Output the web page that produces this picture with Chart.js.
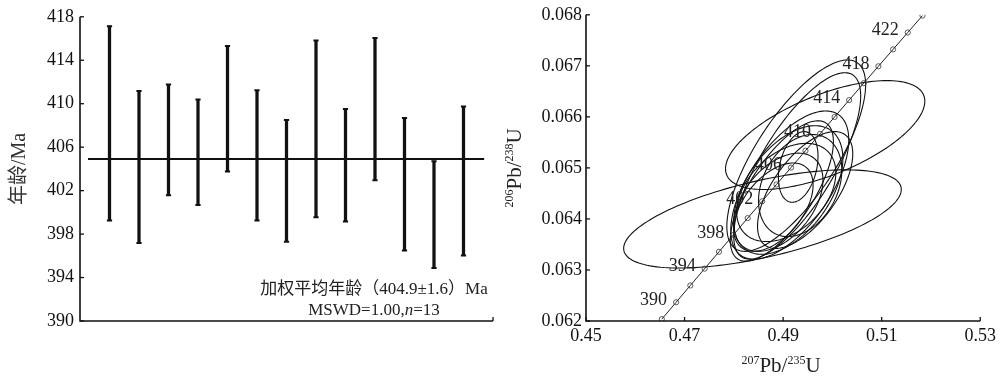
<!DOCTYPE html>
<html><head><meta charset="utf-8">
<script src="https://cdn.jsdelivr.net/npm/chart.js@4"></script>
<style>
html,body{margin:0;padding:0;background:#fff;}
#wrap{position:relative;width:1000px;height:377px;overflow:hidden;background:#fff;}
#c1{position:absolute;left:0;top:0;}
#c2{position:absolute;left:500px;top:0;}
</style></head><body>
<div id="wrap"><canvas id="c1" width="500" height="377"></canvas><canvas id="c2" width="500" height="377"></canvas></div>
<script>
// ---------- Left panel: weighted mean ages ----------
const spotNo  = [1,2,3,4,5,6,7,8,9,10,11,12,13];
const spotAge = [408.19,404.17,406.67,405.53,409.54,405.24,402.90,407.68,404.33,409.50,402.59,399.79,402.89];
const spotErr = [8.95,6.99,5.09,4.85,5.78,6.00,5.60,8.14,5.18,6.55,6.09,4.92,6.85];
const meanAge = 404.9;
const meanErr = 1.6;
const mswdText = "1.00";
const nSpots = 13;
const ageTicks = [390,394,398,402,406,410,414,418];

// ---------- Right panel: concordia ----------
const concAge = [388,390,392,394,396,398,400,402,404,406,408,410,412,414,416,418,420,422,424];
const concX = [0.46539,0.46828,0.47117,0.47408,0.47698,0.47989,0.48281,0.48574,0.48866,0.49160,0.49454,0.49749,0.50044,0.50340,0.50636,0.50933,0.51231,0.51529,0.51828];
const concY = [0.062037,0.062366,0.062696,0.063026,0.063356,0.063686,0.064016,0.064346,0.064676,0.065006,0.065337,0.065667,0.065998,0.066329,0.066660,0.066991,0.067322,0.067653,0.067984];
const concLabelAge = [390,394,398,402,406,410,414,418,422];
// error ellipses: centre, half-extent in x and y, correlation
const ellX   = [0.48581,0.49853,0.49266,0.49286,0.49135,0.48974,0.49105,0.49447,0.49346,0.49064,0.49306,0.48903,0.48803];
const ellY   = [0.064000,0.065644,0.065240,0.065038,0.064663,0.064548,0.064567,0.064567,0.064654,0.064519,0.065019,0.064327,0.064231];
const ellSX  = [0.02817,0.02022,0.01408,0.01288,0.01197,0.01046,0.01107,0.00966,0.00845,0.01006,0.00402,0.00905,0.00805];
const ellSY  = [0.000962,0.001067,0.001875,0.001827,0.001452,0.001375,0.001260,0.001144,0.001000,0.000962,0.000692,0.000962,0.000865];
const ellRho = [0.60,0.62,0.74,0.75,0.61,0.70,0.49,0.62,0.30,0.40,0.30,0.45,0.50];
const xRatioTicks = [0.45,0.47,0.49,0.51,0.53];
const yRatioTicks = [0.062,0.063,0.064,0.065,0.066,0.067,0.068];

const SERIF = "'Liberation Serif','Noto Sans CJK SC',serif";
const INK = '#111';

function drawRich(ctx, parts, big, small, rise) {
  let w = 0;
  parts.forEach(p => { ctx.font = (p.it ? 'italic ' : '') + (p.sup ? small : big) + 'px ' + SERIF; w += ctx.measureText(p.t).width; });
  let x = -w / 2;
  parts.forEach(p => {
    ctx.font = (p.it ? 'italic ' : '') + (p.sup ? small : big) + 'px ' + SERIF;
    ctx.fillText(p.t, x, p.sup ? -rise : 0);
    x += ctx.measureText(p.t).width;
  });
}

const leftDecor = {
  id: 'leftDecor',
  afterDraw(chart) {
    const {ctx, chartArea: a, scales: {y}} = chart;
    ctx.save();
    ctx.strokeStyle = INK; ctx.lineWidth = 1.6;
    ctx.beginPath();
    ctx.moveTo(a.left, a.top); ctx.lineTo(a.left, a.bottom); ctx.lineTo(a.right, a.bottom);
    ctx.stroke();
    ctx.lineWidth = 1.3;
    ageTicks.forEach(v => {
      const py = y.getPixelForValue(v);
      ctx.beginPath(); ctx.moveTo(a.left, py); ctx.lineTo(a.left + 4, py); ctx.stroke();
    });
    ctx.beginPath(); ctx.moveTo(a.right, a.bottom); ctx.lineTo(a.right, a.bottom - 4); ctx.stroke();
    ctx.fillStyle = '#333';
    ctx.translate(20, (a.top + a.bottom) / 2);
    ctx.rotate(-Math.PI / 2);
    ctx.textAlign = 'center'; ctx.textBaseline = 'middle';
    ctx.font = "20px " + SERIF;
    ctx.fillText('年龄/Ma', 0, 0);
    ctx.restore();
    ctx.save();
    ctx.fillStyle = '#222'; ctx.textBaseline = 'alphabetic';
    ctx.textAlign = 'left';
    ctx.translate(374, 294);
    drawRich(ctx, [{t: '加权平均年龄（' + meanAge.toFixed(1) + '±' + meanErr.toFixed(1) + '）Ma'}], 17, 17, 0);
    ctx.translate(0, 21);
    drawRich(ctx, [{t: 'MSWD=' + mswdText + ','}, {t: 'n', it: true}, {t: '=' + nSpots}], 17, 17, 0);
    ctx.restore();
  }
};

new Chart(document.getElementById('c1'), {
  data: {
    datasets: [
      {type: 'bar', data: spotNo.map((n, i) => ({x: n, y: [spotAge[i] - spotErr[i], spotAge[i] + spotErr[i]]})),
       backgroundColor: INK, borderWidth: 0, barThickness: 2.6},
      {type: 'scatter', data: spotNo.map((n, i) => ({x: n, y: spotAge[i] + spotErr[i]})).concat(spotNo.map((n, i) => ({x: n, y: spotAge[i] - spotErr[i]}))),
       pointStyle: 'line', pointRadius: 2.6, borderColor: INK, pointBorderColor: INK, pointBorderWidth: 2},
      {type: 'line', data: [{x: 0.27, y: meanAge}, {x: 13.7, y: meanAge}], borderColor: INK, borderWidth: 2, pointRadius: 0}
    ]
  },
  options: {
    responsive: false, animation: false, devicePixelRatio: 1, events: [],
    layout: {padding: {top: 9, right: 7, left: 0, bottom: 0}, autoPadding: false},
    plugins: {legend: {display: false}, tooltip: {enabled: false}},
    scales: {
      x: {type: 'linear', min: 0, max: 14, offset: false, grid: {display: false, drawTicks: false, offset: false}, border: {display: false},
          ticks: {display: false}, afterFit(s) { s.height = 56; }},
      y: {type: 'linear', min: 390, max: 418, grid: {display: false, drawTicks: false}, border: {display: false},
          ticks: {padding: 6, color: INK, font: {family: SERIF, size: 18}},
          afterBuildTicks(s) { s.ticks = ageTicks.map(v => ({value: v})); },
          afterFit(s) { s.width = 80; }}
    }
  },
  plugins: [leftDecor]
});

const rightDecor = {
  id: 'rightDecor',
  beforeDatasetsDraw(chart) {
    const {ctx, scales: {x, y}} = chart;
    ctx.save();
    ctx.strokeStyle = INK; ctx.lineWidth = 1.1;
    for (let k = 0; k < ellX.length; k++) {
      const r = ellRho[k], q = Math.sqrt(1 - r * r);
      ctx.beginPath();
      for (let j = 0; j <= 160; j++) {
        const t = j / 160 * 2 * Math.PI;
        const px = x.getPixelForValue(ellX[k] + ellSX[k] * Math.cos(t));
        const py = y.getPixelForValue(ellY[k] + ellSY[k] * (r * Math.cos(t) + q * Math.sin(t)));
        if (j) ctx.lineTo(px, py); else ctx.moveTo(px, py);
      }
      ctx.closePath(); ctx.stroke();
    }
    ctx.restore();
  },
  afterDraw(chart) {
    const {ctx, chartArea: a, scales: {x, y}} = chart;
    ctx.save();
    ctx.strokeStyle = INK; ctx.lineWidth = 1.6;
    ctx.beginPath();
    ctx.moveTo(a.left, a.top); ctx.lineTo(a.left, a.bottom); ctx.lineTo(a.right, a.bottom);
    ctx.stroke();
    ctx.lineWidth = 1.3;
    yRatioTicks.forEach(v => { const py = y.getPixelForValue(v); ctx.beginPath(); ctx.moveTo(a.left, py); ctx.lineTo(a.left + 4, py); ctx.stroke(); });
    xRatioTicks.forEach(v => { const px = x.getPixelForValue(v); ctx.beginPath(); ctx.moveTo(px, a.bottom); ctx.lineTo(px, a.bottom - 4); ctx.stroke(); });
    ctx.fillStyle = '#222'; ctx.font = '18px ' + SERIF;
    ctx.textAlign = 'right'; ctx.textBaseline = 'middle';
    concLabelAge.forEach(t => {
      const i = concAge.indexOf(t);
      ctx.fillText(String(t), x.getPixelForValue(concX[i]) - 9, y.getPixelForValue(concY[i]) - 2);
    });
    ctx.fillStyle = '#222'; ctx.textAlign = 'left'; ctx.textBaseline = 'alphabetic';
    ctx.save();
    ctx.translate(281, 372);
    drawRich(ctx, [{t: '207', sup: true}, {t: 'Pb/'}, {t: '235', sup: true}, {t: 'U'}], 21, 12, 8);
    ctx.restore();
    ctx.save();
    ctx.translate(21, (a.top + a.bottom) / 2);
    ctx.rotate(-Math.PI / 2);
    drawRich(ctx, [{t: '206', sup: true}, {t: 'Pb/'}, {t: '238', sup: true}, {t: 'U'}], 21, 12, 8);
    ctx.restore();
    ctx.restore();
  }
};

new Chart(document.getElementById('c2'), {
  type: 'scatter',
  data: {
    datasets: [{
      data: concAge.map((t, i) => ({x: concX[i], y: concY[i]})),
      showLine: true, borderColor: '#222', borderWidth: 1,
      pointRadius: 2.6, pointBorderWidth: 0.8, pointBorderColor: '#333', pointBackgroundColor: 'rgba(255,255,255,0)'
    }]
  },
  options: {
    responsive: false, animation: false, devicePixelRatio: 1, events: [],
    layout: {padding: {top: 9, right: 16, left: 0, bottom: 0}, autoPadding: false},
    plugins: {legend: {display: false}, tooltip: {enabled: false}},
    scales: {
      x: {type: 'linear', min: 0.45, max: 0.53, grid: {display: false, drawTicks: false}, border: {display: false},
          ticks: {padding: 4, color: INK, font: {family: SERIF, size: 18}, callback: v => Number(v).toFixed(2)},
          afterBuildTicks(s) { s.ticks = xRatioTicks.map(v => ({value: v})); },
          afterFit(s) { s.height = 56; }},
      y: {type: 'linear', min: 0.062, max: 0.068, grid: {display: false, drawTicks: false}, border: {display: false},
          ticks: {padding: 4, color: INK, font: {family: SERIF, size: 18}, callback: v => Number(v).toFixed(3)},
          afterBuildTicks(s) { s.ticks = yRatioTicks.map(v => ({value: v})); },
          afterFit(s) { s.width = 86; }}
    }
  },
  plugins: [rightDecor]
});
</script>
</body></html>
